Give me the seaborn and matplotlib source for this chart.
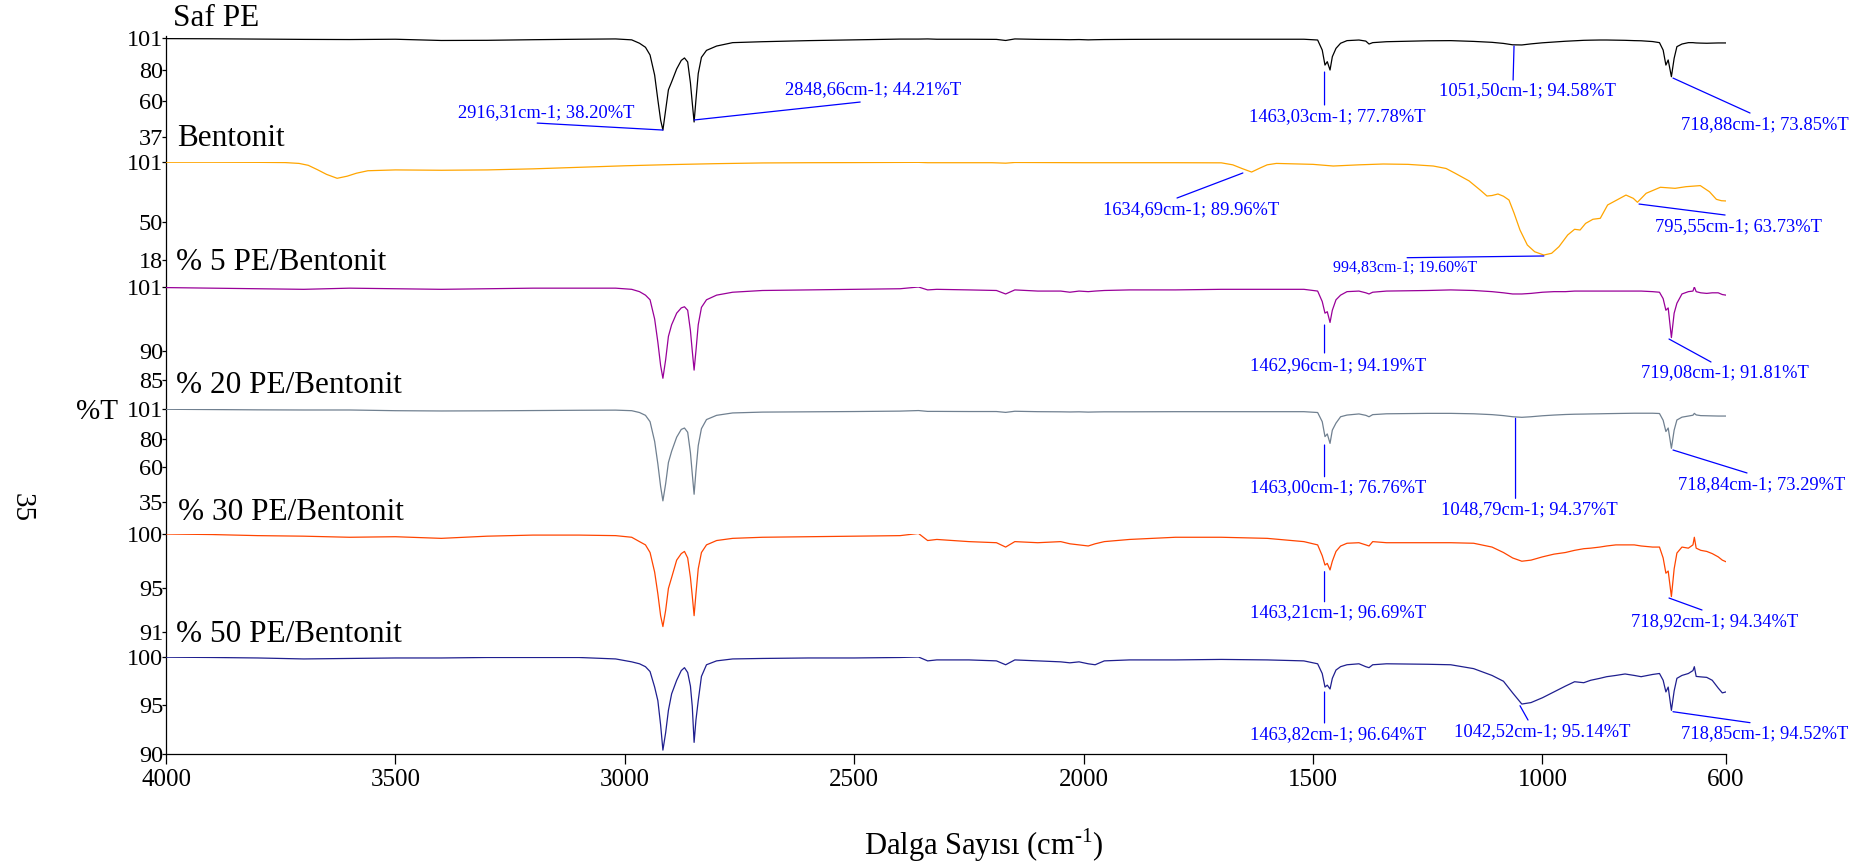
import matplotlib
matplotlib.use("Agg")
import matplotlib.pyplot as plt
import seaborn as sns

# ---------------- data ----------------
wn_pe = [4000, 3900, 3800, 3700, 3600, 3500, 3400, 3300, 3200, 3100,
         3020, 2985, 2968, 2955, 2945, 2935, 2928, 2922, 2917, 2911,
         2905, 2898, 2887, 2877, 2870, 2863, 2857, 2853, 2849, 2845,
         2840, 2833, 2822, 2800, 2765, 2700, 2600, 2500, 2400, 2360,
         2340, 2320, 2250, 2190, 2170, 2150, 2100, 2050, 2030, 2010,
         1990, 1975, 1955, 1900, 1800, 1700, 1600, 1520, 1490, 1480,
         1474, 1469, 1463, 1458, 1450, 1440, 1426, 1400, 1385, 1378,
         1370, 1340, 1250, 1200, 1150, 1110, 1085, 1065, 1045, 1025,
         1000, 975, 950, 930, 910, 895, 875, 860, 840, 820,
         800, 785, 760, 745, 737, 731, 726, 719, 713, 707,
         696, 682, 672, 669, 665, 655, 642, 630, 617, 608, 600]

saf_pe = [100.6, 100.5, 100.3, 100.1, 100.0, 100.2, 99.4, 99.5, 99.9, 100.2,
          100.4, 99.8, 97.6, 95.0, 90.0, 77.0, 61.0, 48.0, 41.5, 54.5,
          67.5, 72.6, 81.0, 86.5, 88.1, 85.5, 72.0, 59.0, 46.7, 61.0,
          78.0, 88.5, 93.0, 95.8, 98.0, 98.6, 99.3, 99.8, 100.3, 100.3,
          100.4, 100.2, 100.2, 100.1, 99.4, 100.4, 100.1, 100.0, 99.9, 100.0,
          99.8, 99.9, 100.0, 100.1, 100.2, 100.2, 100.2, 100.2, 99.7, 93.2,
          83.5, 85.7, 80.3, 88.9, 94.3, 97.6, 99.3, 99.7, 99.0, 97.1,
          98.0, 98.6, 99.2, 99.3, 98.8, 98.2, 97.5, 96.6, 96.5, 97.2,
          97.9, 98.4, 98.9, 99.2, 99.5, 99.6, 99.7, 99.7, 99.6, 99.5,
          99.3, 99.2, 98.7, 98.0, 93.2, 83.5, 86.8, 76.0, 87.9, 95.4,
          97.1, 98.0, 98.0, 97.9, 97.8, 97.7, 97.6, 97.7, 97.8, 97.8, 97.8]

pe_5 = [100.9, 100.8, 100.7, 100.6, 100.8, 100.7, 100.6, 100.7, 100.8, 100.8,
        100.8, 100.6, 100.2, 99.6, 98.8, 95.5, 91.5, 87.5, 85.3, 88.5,
        92.5, 94.5, 96.5, 97.4, 97.6, 97.0, 93.5, 90.0, 86.7, 90.0,
        94.5, 97.5, 98.8, 99.6, 100.1, 100.4, 100.5, 100.6, 100.7, 101.0,
        100.5, 100.6, 100.5, 100.4, 99.8, 100.5, 100.3, 100.3, 100.1, 100.3,
        100.2, 100.3, 100.4, 100.5, 100.5, 100.6, 100.6, 100.6, 100.3, 98.5,
        96.5, 96.75, 94.9, 97.0, 98.8, 99.6, 100.2, 100.3, 100.0, 99.8,
        100.1, 100.3, 100.4, 100.5, 100.4, 100.2, 100.0, 99.8, 99.8, 99.9,
        100.1, 100.2, 100.2, 100.3, 100.3, 100.3, 100.3, 100.3, 100.3, 100.3,
        100.3, 100.3, 100.2, 100.1, 99.0, 97.0, 97.4, 92.3, 96.5, 98.2,
        99.8, 100.2, 100.3, 101.0, 100.2, 100.0, 99.9, 100.0, 100.0, 99.7, 99.6]

pe_20 = [100.8, 100.6, 100.4, 100.3, 100.3, 99.8, 99.6, 99.7, 99.9, 100.1,
         100.2, 99.8, 98.5, 96.5, 92.0, 78.0, 62.0, 46.0, 35.8, 48.0,
         63.0, 71.0, 81.0, 86.5, 87.5, 84.5, 70.0, 55.0, 40.5, 57.0,
         75.0, 87.0, 93.5, 96.5, 98.2, 98.8, 99.0, 99.2, 99.5, 99.9,
         99.3, 99.3, 99.2, 99.2, 98.6, 99.4, 99.1, 99.0, 98.9, 99.0,
         98.8, 98.9, 99.0, 99.0, 99.1, 99.1, 99.1, 99.1, 98.5, 92.0,
         81.4, 83.3, 76.6, 86.0, 91.0, 95.5, 96.7, 97.5, 96.5, 95.5,
         97.0, 97.6, 97.9, 97.9, 97.6, 97.0, 96.3, 95.5, 95.1, 95.5,
         96.2, 96.7, 97.1, 97.3, 97.4, 97.5, 97.6, 97.7, 97.8, 97.9,
         98.0, 98.0, 98.0, 97.8, 93.0, 85.0, 87.5, 73.1, 86.0, 93.2,
         95.2, 96.0, 96.6, 97.9, 96.8, 96.3, 96.2, 96.1, 96.0, 96.0, 96.0]

pe_30 = [100.0, 99.95, 99.85, 99.8, 99.7, 99.75, 99.6, 99.8, 99.9, 99.9,
         99.85, 99.7, 99.3, 99.0, 98.3, 96.5, 94.5, 92.5, 91.5, 93.0,
         95.0, 96.0, 97.6, 98.2, 98.4, 97.8, 96.0, 94.3, 92.5, 94.5,
         96.8, 98.3, 99.0, 99.4, 99.6, 99.7, 99.75, 99.8, 99.85, 100.05,
         99.4, 99.5, 99.3, 99.2, 98.8, 99.3, 99.2, 99.3, 99.1, 99.0,
         98.9, 99.1, 99.3, 99.5, 99.7, 99.7, 99.6, 99.3, 99.0, 98.0,
         97.15, 97.3, 96.7, 97.5, 98.4, 98.9, 99.15, 99.2, 99.0, 98.9,
         99.3, 99.2, 99.2, 99.2, 99.15, 98.8, 98.3, 97.8, 97.5, 97.6,
         97.9, 98.15, 98.3, 98.5, 98.65, 98.7, 98.8, 98.9, 99.0, 99.0,
         99.0, 98.9, 98.8, 98.8, 97.8, 96.4, 96.6, 94.25, 96.8, 98.25,
         98.8, 98.7, 99.0, 99.7, 98.7, 98.5, 98.4, 98.2, 97.9, 97.6, 97.45]

pe_50 = [99.98, 99.95, 99.9, 99.8, 99.85, 99.9, 99.9, 99.95, 99.95, 99.95,
         99.8, 99.5, 99.3, 99.0, 98.5, 96.9, 95.5, 93.0, 90.4, 92.2,
         94.5, 96.2, 97.6, 98.6, 98.9, 98.4, 97.0, 94.9, 91.2, 93.5,
         95.5, 98.0, 99.2, 99.6, 99.8, 99.85, 99.9, 99.9, 99.95, 100.0,
         99.6, 99.7, 99.7, 99.6, 99.2, 99.7, 99.6, 99.5, 99.4, 99.5,
         99.3, 99.2, 99.6, 99.7, 99.7, 99.75, 99.7, 99.6, 99.3, 98.3,
         96.9, 97.1, 96.7, 97.8, 98.66, 99.0, 99.2, 99.3, 99.0, 98.9,
         99.2, 99.3, 99.25, 99.2, 98.8, 98.1, 97.5, 96.3, 95.15, 95.3,
         95.8, 96.4, 97.0, 97.45, 97.35, 97.6, 97.8, 97.97, 98.1, 98.25,
         98.1, 97.97, 98.2, 98.3, 97.6, 96.4, 96.9, 94.5, 96.5, 97.8,
         98.1, 98.3, 98.6, 99.0, 98.0, 97.95, 97.9, 97.6, 96.8, 96.3, 96.4]

wn_bent = [4000, 3900, 3800, 3740, 3710, 3690, 3670, 3650, 3627, 3605,
           3585, 3560, 3500, 3400, 3300, 3200, 3100, 3000, 2900, 2800,
           2700, 2600, 2500, 2360, 2340, 2200, 2170, 2150, 2000, 1900,
           1800, 1700, 1675, 1655, 1634, 1615, 1600, 1580, 1500, 1456,
           1400, 1347, 1293, 1238, 1210, 1190, 1160, 1135, 1121, 1110,
           1097, 1085, 1073, 1062, 1049, 1033, 1017, 997, 980, 964,
           945, 930, 918, 906, 890, 874, 858, 838, 818, 802,
           793, 774, 743, 711, 687, 656, 636, 621, 610, 600]

bentonit = [100.8, 100.8, 100.7, 100.5, 99.8, 98.2, 94.5, 90.5, 87.2, 89.0,
            91.5, 93.6, 94.3, 94.0, 94.3, 95.2, 96.5, 97.8, 98.8, 99.6,
            100.2, 100.4, 100.5, 100.7, 100.4, 100.4, 100.0, 100.6, 100.4, 100.4,
            100.4, 100.3, 98.6, 95.5, 92.5, 96.0, 98.6, 99.8, 99.0, 97.6,
            98.6, 99.3, 99.0, 97.6, 95.5, 91.4, 85.0, 77.0, 72.2, 72.6,
            73.9, 72.0, 68.8, 57.8, 43.4, 30.7, 25.0, 22.2, 23.7, 29.3,
            39.2, 44.0, 43.4, 49.0, 52.5, 53.3, 64.6, 68.8, 73.0, 70.2,
            66.9, 74.5, 79.6, 78.7, 80.1, 81.0, 75.8, 69.4, 68.2, 68.0]

sample_names = ["Saf PE", "Bentonit", "% 5 PE/Bentonit", "% 20 PE/Bentonit",
                "% 30 PE/Bentonit", "% 50 PE/Bentonit"]
x_ticks = [4000, 3500, 3000, 2500, 2000, 1500, 1000, 600]
y_ticks = [[37, 60, 80, 101], [18, 50, 101], [85, 90, 101],
           [35, 60, 80, 101], [91, 95, 100], [90, 95, 100]]

# peak annotations: panel, text, text anchor (cm-1, %T), ha, leader start, leader end
peak_labels = [
    (0, "2916,31cm-1; 38.20%T", (3364, 52.5), "left", (2917, 41.5), (3191, 46.0)),
    (0, "2848,66cm-1; 44.21%T", (2651, 67.4), "left", (2849, 48.0), (2487, 59.6)),
    (0, "1463,03cm-1; 77.78%T", (1254, 49.9), "right", (1475, 79.0), (1475, 57.7)),
    (0, "1051,50cm-1; 94.58%T", (1225, 66.7), "left", (1062, 95.8), (1064, 73.8)),
    (0, "718,88cm-1; 73.85%T", (698, 44.8), "left", (715.5, 75.1), (547.6, 52.5)),
    (1, "1634,69cm-1; 89.96%T", (1958, 60.35), "left", (1653, 91.7), (1796.5, 70.5)),
    (1, "994,83cm-1; 19.60%T", (1456.5, 11.2), "left", (997, 21.4), (1295, 19.95)),
    (1, "795,55cm-1; 63.73%T", (755, 46.0), "left", (789.6, 65.4), (602, 56.1)),
    (2, "1462,96cm-1; 94.19%T", (1254, 87.4), "right", (1475, 94.46), (1475, 89.65)),
    (2, "719,08cm-1; 91.81%T", (786.3, 86.2), "left", (724.2, 92.05), (632.7, 88.1)),
    (3, "1463,00cm-1; 76.76%T", (1254, 44.9), "right", (1475, 75.45), (1475, 52.95)),
    (3, "1048,79cm-1; 94.37%T", (1221, 29.3), "left", (1058.7, 94.4), (1058.7, 37.6)),
    (3, "718,84cm-1; 73.29%T", (704.6, 47.1), "left", (715.5, 71.9), (554.2, 55.6)),
    (4, "1463,21cm-1; 96.69%T", (1254, 92.74), "right", (1475, 96.54), (1475, 93.78)),
    (4, "718,92cm-1; 94.34%T", (806, 92.0), "left", (724.2, 94.12), (652.3, 93.02)),
    (5, "1463,82cm-1; 96.64%T", (1254, 91.96), "right", (1475, 96.39), (1475, 93.2)),
    (5, "1042,52cm-1; 95.14%T", (1193, 92.27), "left", (1049, 94.98), (1031.5, 93.5)),
    (5, "718,85cm-1; 94.52%T", (698, 92.06), "left", (715.5, 94.36), (547.6, 93.23)),
]

# ---------------- style ----------------
sns.set_theme(style="white")
plt.rcParams["font.family"] = ["Liberation Serif", "DejaVu Serif"]
plt.rcParams["mathtext.fontset"] = "custom"
plt.rcParams["mathtext.rm"] = "Liberation Serif"
plt.rcParams["text.color"] = "black"
plt.rcParams["xtick.color"] = "black"
plt.rcParams["ytick.color"] = "black"

series = [(wn_pe, saf_pe), (wn_bent, bentonit), (wn_pe, pe_5),
          (wn_pe, pe_20), (wn_pe, pe_30), (wn_pe, pe_50)]
colors = ["#000000", "#FFA500", "#990099", "#708090", "#FF4500", "#1F1F8F"]
y_limits = [(37, 101), (18, 101), (85, 101), (35, 101), (91, 100), (90, 100)]
label_sizes = [13.3] * len(peak_labels)
label_sizes[6] = 11.5

W, H = 1865, 867
fig = plt.figure(figsize=(W / 100, H / 100), dpi=100)
L, R = 166, 1726
panel_px = [(38, 137), (162, 260), (287, 380), (409, 502), (534, 632), (657, 754)]
title_px = [(173, 18), (177, 138), (176, 263), (176, 385), (178, 512), (176, 635)]

# continuous left axis line
bg = fig.add_axes([L / W, 1 - 754 / H, (R - L) / W, (754 - 36) / H])
bg.set_facecolor("none")
for s in ["top", "right", "bottom"]:
    bg.spines[s].set_visible(False)
bg.spines["left"].set_color("black")
bg.spines["left"].set_linewidth(0.9)
bg.set_xticks([])
bg.set_yticks([])

axes = []
for i, ((top, bot), (wn, vals), col) in enumerate(zip(panel_px, series, colors)):
    ax = fig.add_axes([L / W, 1 - bot / H, (R - L) / W, (bot - top) / H])
    ax.set_facecolor("none")
    sns.lineplot(x=wn, y=vals, ax=ax, color=col, linewidth=0.9,
                 estimator=None, sort=False, legend=False)
    ax.set_xlim(4000, 600)
    ax.set_ylim(*y_limits[i])
    ax.set_yticks(y_ticks[i])
    ax.set_yticklabels([str(t) for t in y_ticks[i]])
    ax.set_xlabel("")
    ax.set_ylabel("")
    for s in ["top", "right", "left", "bottom"]:
        ax.spines[s].set_visible(False)
    ax.tick_params(axis="y", left=True, direction="out", length=3, width=0.9,
                   pad=-1, labelsize=17.5)
    if i == len(panel_px) - 1:
        ax.spines["bottom"].set_visible(True)
        ax.spines["bottom"].set_color("black")
        ax.spines["bottom"].set_linewidth(0.9)
        ax.set_xticks(x_ticks)
        ax.set_xticklabels([str(t) for t in x_ticks])
        ax.tick_params(axis="x", bottom=True, direction="out", length=7,
                       width=0.9, pad=4, labelsize=18)
    else:
        ax.set_xticks([])
    fig.text(title_px[i][0] / W, 1 - title_px[i][1] / H, sample_names[i],
             fontsize=22.5, ha="left", va="center")
    axes.append(ax)

for k, (p, txt, (tx, ty), ha, p0, p1) in enumerate(peak_labels):
    ax = axes[p]
    ax.annotate("", xy=p0, xytext=p1,
                arrowprops=dict(arrowstyle="-", color="#0000FF", lw=0.9,
                                shrinkA=0, shrinkB=0),
                annotation_clip=False)
    ax.text(tx, ty, txt, color="#0000FF", fontsize=label_sizes[k],
            ha=ha, va="center", clip_on=False)

fig.text(97 / W, 1 - 412 / H, "%T", fontsize=21, ha="center", va="center")
fig.text(22 / W, 1 - 508 / H, "35", fontsize=21, rotation=270,
         ha="center", va="center")
fig.text(984 / W, 1 - 845 / H, r"Dalga Sayısı (cm$^{\text{-1}}$)", fontsize=22,
         ha="center", va="center")

fig.savefig("out.png", dpi=100)
